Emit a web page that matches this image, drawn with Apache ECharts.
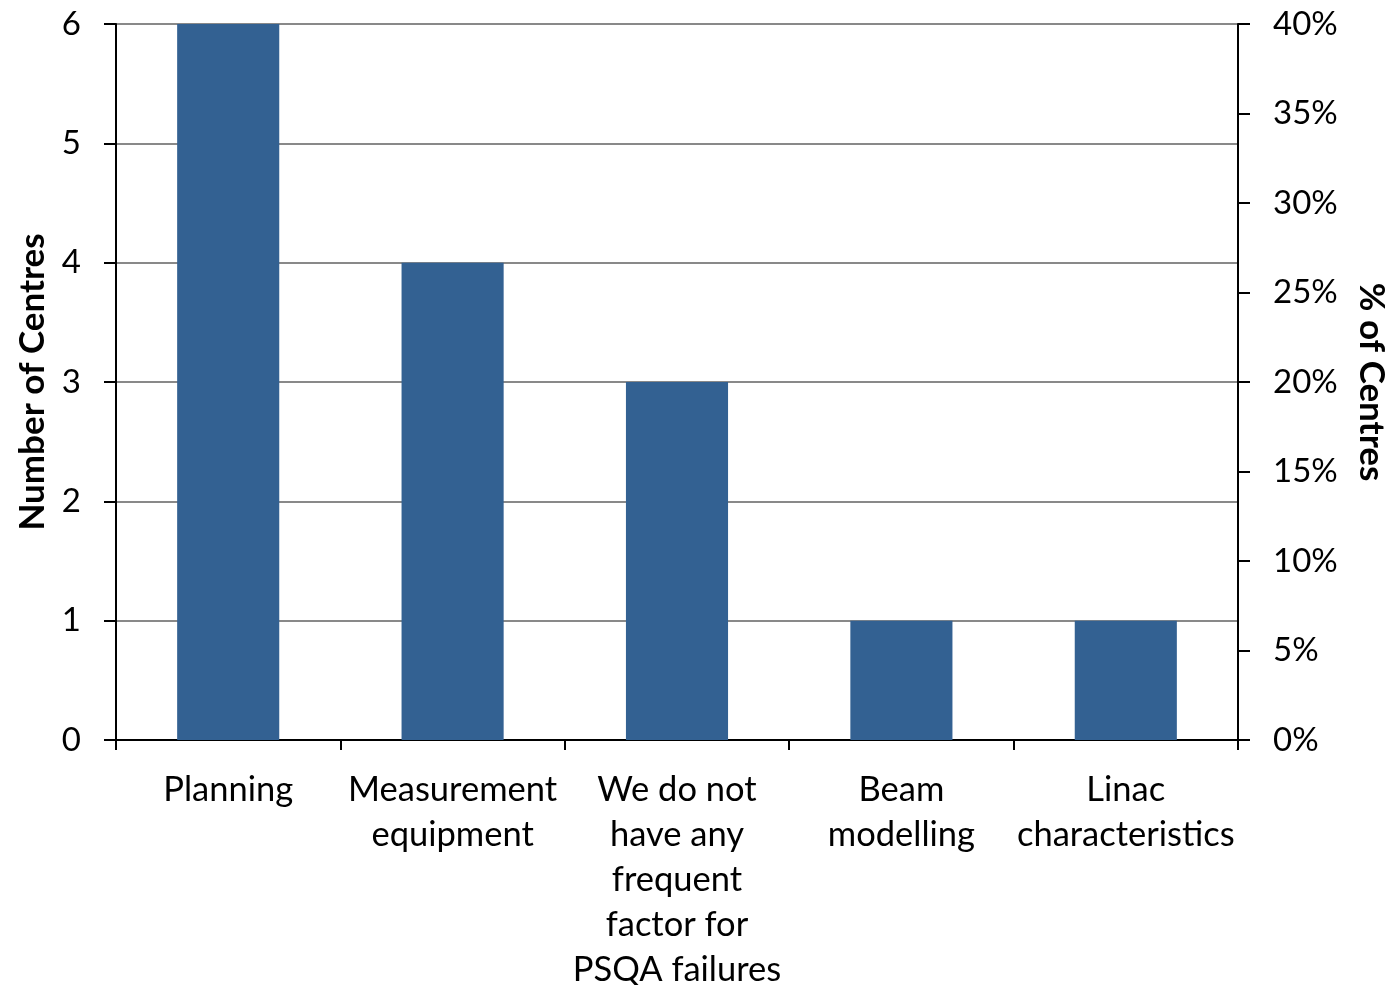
<!DOCTYPE html>
<html><head><meta charset="utf-8">
<script src="https://cdn.jsdelivr.net/npm/echarts@6/dist/echarts.min.js"></script>
<style>html,body{margin:0;padding:0;background:#fff;overflow:hidden}#c{width:1395px;height:985px}</style>
</head><body><div id="c"></div>
<script>
const categories = ["Planning", "Measurement\nequipment", "We do not\nhave any\nfrequent\nfactor for\nPSQA failures", "Beam\nmodelling", "Linac\ncharacteristics"];
const centres = [6, 4, 3, 1, 1];
const leftAxisName = "Number of Centres";
const rightAxisName = "% of Centres";

const FONT = "Lato";
const chart = echarts.init(document.getElementById('c'), null, {renderer: 'canvas', width: 1395, height: 985});
chart.setOption({
  animation: false,
  backgroundColor: '#fff',
  grid: {left: 116, width: 1122, top: 24, height: 716, containLabel: false, outerBoundsMode: 'none'},
  xAxis: {
    type: 'category', data: categories,
    axisLine: {lineStyle: {color: '#000', width: 2}},
    axisTick: {show: true, length: 10, lineStyle: {color: '#000', width: 2}},
    axisLabel: {color: '#000', fontFamily: FONT, fontSize: 34.5, lineHeight: 45, margin: 27, interval: 0}
  },
  yAxis: [{
    type: 'value', min: 0, max: 6, interval: 1,
    name: leftAxisName, nameLocation: 'middle', nameRotate: 90, nameGap: 66,
    nameTextStyle: {color: '#000', fontFamily: FONT, fontSize: 35, fontWeight: 'bold'},
    axisLine: {show: true, lineStyle: {color: '#000', width: 2}},
    axisTick: {show: true, length: 12, lineStyle: {color: '#000', width: 2}},
    axisLabel: {color: '#000', fontFamily: FONT, fontSize: 33, margin: 35},
    splitLine: {show: true, lineStyle: {color: '#898989', width: 2}}
  }, {
    type: 'value', min: 0, max: 0.4, interval: 0.05, position: 'right',
    name: rightAxisName, nameLocation: 'middle', nameRotate: -90, nameGap: 116,
    nameTextStyle: {color: '#000', fontFamily: FONT, fontSize: 35, fontWeight: 'bold'},
    axisLine: {show: true, lineStyle: {color: '#000', width: 2}},
    axisTick: {show: true, length: 12, lineStyle: {color: '#000', width: 2}},
    axisLabel: {color: '#000', fontFamily: FONT, fontSize: 33, margin: 35, align: 'left',
      formatter: v => Math.round(v * 100) + '%'},
    splitLine: {show: false}
  }],
  series: [{
    type: 'bar', data: centres, yAxisIndex: 0, barWidth: '45.5%',
    itemStyle: {color: '#336192'}
  }]
});
</script></body></html>
